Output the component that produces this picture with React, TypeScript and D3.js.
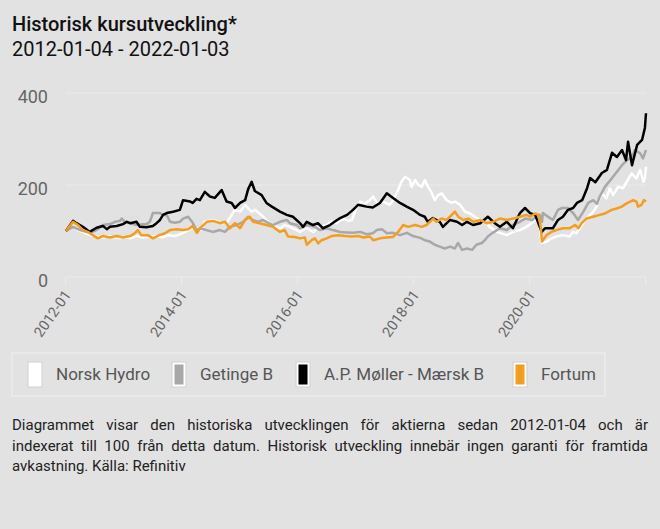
import React, { useEffect, useRef } from "react";
import * as d3 from "d3";

type Pt = [string, number];

const title = "Historisk kursutveckling*";
const subtitle = "2012-01-04 - 2022-01-03";
const yTickValues = [0, 200, 400];
const xTickDates = ["2012-01-01", "2014-01-01", "2016-01-01", "2018-01-01", "2020-01-01", "2022-01-01"];
const xTickLabels = ["2012-01", "2014-01", "2016-01", "2018-01", "2020-01", ""];
const seriesNames = ["Norsk Hydro", "Getinge B", "A.P. Møller - Mærsk B", "Fortum"];
const seriesColors = ["#ffffff", "#a8a8a8", "#000000", "#f59d1c"];
const footLines = [
  "Diagrammet visar den historiska utvecklingen för aktierna sedan 2012-01-04 och är",
  "indexerat till 100 från detta datum. Historisk utveckling innebär ingen garanti för framtida",
  "avkastning. Källa: Refinitiv",
];

const norskHydro: Pt[] = [
  ["2012-01-04", 100], ["2012-02-17", 109], ["2012-03-20", 102], ["2012-05-02", 96], ["2012-06-02", 91],
  ["2012-07-14", 88], ["2012-08-24", 86], ["2012-10-07", 89], ["2012-11-18", 84], ["2012-12-28", 87],
  ["2013-02-11", 84], ["2013-03-23", 89], ["2013-05-02", 86], ["2013-06-15", 87], ["2013-07-27", 89],
  ["2013-09-06", 86], ["2013-09-29", 91], ["2013-11-20", 89], ["2013-12-21", 93], ["2014-01-22", 98],
  ["2014-02-24", 104], ["2014-04-05", 106], ["2014-05-06", 102], ["2014-05-27", 120], ["2014-07-16", 124],
  ["2014-08-30", 118], ["2014-10-11", 117], ["2014-11-20", 139], ["2014-12-03", 146], ["2015-01-04", 142],
  ["2015-02-05", 157], ["2015-02-25", 149], ["2015-03-16", 142], ["2015-04-07", 146], ["2015-05-18", 135],
  ["2015-06-28", 120], ["2015-07-30", 113], ["2015-09-12", 106], ["2015-10-12", 113], ["2015-11-13", 109],
  ["2015-12-26", 102], ["2016-01-16", 98], ["2016-02-28", 106], ["2016-04-09", 98], ["2016-05-20", 109],
  ["2016-07-02", 113], ["2016-08-02", 120], ["2016-09-04", 117], ["2016-10-15", 127], ["2016-11-15", 122],
  ["2016-12-08", 124], ["2017-01-06", 150], ["2017-01-29", 164], ["2017-02-28", 160], ["2017-03-31", 167],
  ["2017-04-21", 175], ["2017-05-21", 157], ["2017-06-22", 164], ["2017-08-03", 157], ["2017-08-24", 167],
  ["2017-09-25", 189], ["2017-10-16", 207], ["2017-11-08", 218], ["2017-12-08", 211], ["2017-12-19", 196],
  ["2018-01-10", 211], ["2018-01-31", 200], ["2018-02-21", 196], ["2018-03-12", 211], ["2018-04-02", 196],
  ["2018-04-22", 185], ["2018-05-14", 167], ["2018-06-04", 178], ["2018-06-26", 182], ["2018-07-28", 167],
  ["2018-08-29", 161], ["2018-09-18", 164], ["2018-10-20", 157], ["2018-11-20", 142], ["2018-12-22", 138],
  ["2019-01-23", 131], ["2019-02-24", 124], ["2019-04-06", 117], ["2019-04-25", 109], ["2019-06-09", 98],
  ["2019-08-11", 91], ["2019-09-20", 98], ["2019-11-01", 102], ["2019-12-13", 109], ["2020-01-25", 120],
  ["2020-02-26", 127], ["2020-03-19", 74], ["2020-04-17", 77], ["2020-05-18", 84], ["2020-06-18", 88],
  ["2020-07-29", 91], ["2020-09-09", 88], ["2020-09-30", 98], ["2020-10-21", 95], ["2020-11-13", 106],
  ["2020-12-04", 117], ["2020-12-24", 127], ["2021-02-05", 142], ["2021-02-26", 153], ["2021-03-29", 182],
  ["2021-04-29", 171], ["2021-05-20", 193], ["2021-06-10", 178], ["2021-07-11", 196], ["2021-08-12", 193],
  ["2021-09-03", 207], ["2021-10-05", 225], ["2021-11-04", 214], ["2021-11-27", 233], ["2021-12-18", 207],
  ["2021-12-27", 214], ["2022-01-03", 240],
];

const getinge: Pt[] = [
  ["2012-01-04", 100], ["2012-02-17", 109], ["2012-04-01", 102], ["2012-06-02", 96], ["2012-07-14", 102],
  ["2012-08-24", 113], ["2012-10-07", 115], ["2012-11-08", 120], ["2012-12-09", 122], ["2012-12-20", 127],
  ["2013-01-10", 120], ["2013-02-11", 117], ["2013-03-23", 113], ["2013-05-25", 115], ["2013-06-15", 120],
  ["2013-07-04", 139], ["2013-08-18", 139], ["2013-09-06", 135], ["2013-09-29", 135], ["2013-10-20", 120],
  ["2013-11-20", 118], ["2013-12-21", 120], ["2014-01-10", 127], ["2014-02-11", 131], ["2014-03-12", 118],
  ["2014-04-05", 102], ["2014-04-26", 106], ["2014-06-07", 102], ["2014-07-16", 98], ["2014-08-30", 102],
  ["2014-10-01", 98], ["2014-11-01", 109], ["2014-12-13", 113], ["2015-01-23", 120], ["2015-02-24", 131],
  ["2015-03-22", 124], ["2015-04-28", 120], ["2015-05-27", 124], ["2015-06-28", 118], ["2015-07-29", 113],
  ["2015-09-12", 120], ["2015-10-25", 124], ["2015-11-13", 117], ["2015-12-28", 113], ["2016-01-16", 106],
  ["2016-03-01", 113], ["2016-04-19", 109], ["2016-05-20", 102], ["2016-07-02", 106], ["2016-08-11", 102],
  ["2016-09-25", 98], ["2016-11-08", 97], ["2016-12-15", 96], ["2017-01-29", 98], ["2017-03-12", 93],
  ["2017-04-19", 95], ["2017-05-14", 102], ["2017-06-15", 104], ["2017-07-16", 95], ["2017-08-24", 96],
  ["2017-10-07", 91], ["2017-11-20", 96], ["2017-12-28", 89], ["2018-02-11", 85], ["2018-03-12", 80],
  ["2018-04-13", 77], ["2018-05-14", 70], ["2018-06-15", 66], ["2018-07-16", 62], ["2018-08-18", 66],
  ["2018-09-18", 62], ["2018-10-07", 74], ["2018-11-02", 59], ["2018-12-03", 62], ["2019-01-04", 59],
  ["2019-01-31", 70], ["2019-03-06", 74], ["2019-03-25", 80], ["2019-04-13", 88], ["2019-05-14", 96],
  ["2019-06-28", 106], ["2019-08-11", 102], ["2019-09-18", 113], ["2019-10-15", 117], ["2019-11-01", 120],
  ["2019-12-05", 127], ["2020-01-16", 124], ["2020-02-10", 131], ["2020-03-06", 135], ["2020-03-19", 120],
  ["2020-03-25", 139], ["2020-05-08", 128], ["2020-05-27", 124], ["2020-06-28", 146], ["2020-07-23", 150],
  ["2020-08-30", 150], ["2020-10-01", 139], ["2020-11-01", 124], ["2020-12-03", 141], ["2021-01-04", 161],
  ["2021-02-05", 167], ["2021-03-01", 159], ["2021-03-18", 175], ["2021-04-19", 196], ["2021-06-03", 215],
  ["2021-07-04", 229], ["2021-08-05", 243], ["2021-09-06", 254], ["2021-10-07", 262], ["2021-10-25", 276],
  ["2021-11-27", 269], ["2021-12-15", 258], ["2022-01-03", 276],
];

const maersk: Pt[] = [
  ["2012-01-04", 100], ["2012-02-17", 122], ["2012-03-10", 117], ["2012-04-19", 109], ["2012-06-02", 98],
  ["2012-07-14", 107], ["2012-08-24", 111], ["2012-09-17", 104], ["2012-10-07", 109], ["2012-11-18", 111],
  ["2012-12-28", 115], ["2013-01-21", 120], ["2013-02-11", 117], ["2013-03-23", 120], ["2013-04-13", 109],
  ["2013-05-25", 108], ["2013-07-04", 111], ["2013-07-27", 117], ["2013-08-18", 124], ["2013-09-06", 135],
  ["2013-09-29", 139], ["2013-11-08", 142], ["2013-12-21", 146], ["2014-01-10", 167], ["2014-02-24", 164],
  ["2014-03-12", 161], ["2014-04-05", 170], ["2014-04-26", 167], ["2014-05-27", 185], ["2014-06-28", 175],
  ["2014-07-29", 172], ["2014-09-10", 189], ["2014-10-11", 164], ["2014-11-12", 161], ["2014-12-03", 150],
  ["2015-01-04", 161], ["2015-02-05", 167], ["2015-02-24", 191], ["2015-03-18", 207], ["2015-04-07", 187],
  ["2015-05-20", 178], ["2015-06-19", 161], ["2015-07-23", 153], ["2015-09-12", 142], ["2015-10-25", 135],
  ["2015-12-03", 131], ["2016-01-16", 117], ["2016-02-05", 109], ["2016-02-28", 120], ["2016-04-07", 113],
  ["2016-05-08", 117], ["2016-06-09", 106], ["2016-07-23", 113], ["2016-09-06", 124], ["2016-09-25", 128],
  ["2016-11-08", 135], ["2016-12-15", 146], ["2017-01-16", 157], ["2017-03-10", 153], ["2017-04-19", 151],
  ["2017-06-03", 161], ["2017-07-16", 182], ["2017-08-24", 172], ["2017-10-07", 161], ["2017-11-18", 153],
  ["2017-12-28", 146], ["2018-02-11", 135], ["2018-03-12", 131], ["2018-03-31", 120], ["2018-05-02", 128],
  ["2018-06-15", 120], ["2018-07-04", 109], ["2018-08-18", 124], ["2018-10-01", 120], ["2018-11-02", 113],
  ["2018-12-03", 120], ["2019-01-10", 113], ["2019-02-24", 117], ["2019-04-13", 131], ["2019-05-27", 117],
  ["2019-06-28", 109], ["2019-08-11", 120], ["2019-09-18", 106], ["2019-11-01", 139], ["2019-12-03", 150],
  ["2020-01-04", 139], ["2020-02-05", 135], ["2020-03-17", 98], ["2020-04-07", 106], ["2020-05-27", 106],
  ["2020-06-28", 124], ["2020-07-29", 131], ["2020-08-30", 146], ["2020-10-01", 150], ["2020-10-25", 161],
  ["2020-11-27", 167], ["2020-12-28", 193], ["2021-01-16", 215], ["2021-02-18", 206], ["2021-03-31", 226],
  ["2021-05-02", 233], ["2021-06-03", 270], ["2021-07-04", 261], ["2021-08-05", 276], ["2021-08-30", 254],
  ["2021-09-12", 294], ["2021-10-07", 243], ["2021-11-08", 287], ["2021-12-09", 298], ["2021-12-27", 324],
  ["2022-01-03", 356],
];

const fortum: Pt[] = [
  ["2012-01-04", 100], ["2012-02-17", 120], ["2012-03-20", 113], ["2012-04-19", 102], ["2012-05-22", 98],
  ["2012-06-21", 91], ["2012-07-22", 84], ["2012-08-24", 89], ["2012-10-07", 86], ["2012-11-18", 89],
  ["2012-12-28", 86], ["2013-02-11", 89], ["2013-03-12", 95], ["2013-03-31", 102], ["2013-04-22", 91],
  ["2013-06-03", 91], ["2013-07-04", 84], ["2013-08-14", 91], ["2013-09-18", 95], ["2013-10-20", 102],
  ["2013-12-03", 104], ["2014-01-10", 102], ["2014-02-11", 104], ["2014-03-12", 111], ["2014-04-07", 96],
  ["2014-05-06", 109], ["2014-06-09", 120], ["2014-07-18", 122], ["2014-08-30", 117], ["2014-10-01", 120],
  ["2014-11-01", 106], ["2014-12-03", 117], ["2015-01-04", 106], ["2015-02-05", 124], ["2015-03-06", 131],
  ["2015-03-27", 120], ["2015-05-08", 117], ["2015-06-19", 113], ["2015-07-30", 109], ["2015-09-12", 98],
  ["2015-10-12", 102], ["2015-11-02", 88], ["2015-12-14", 87], ["2016-01-16", 84], ["2016-02-16", 86],
  ["2016-02-28", 70], ["2016-03-30", 80], ["2016-04-19", 84], ["2016-05-10", 73], ["2016-05-31", 80],
  ["2016-07-02", 84], ["2016-08-02", 89], ["2016-09-14", 91], ["2016-10-26", 89], ["2016-12-08", 88],
  ["2017-01-18", 89], ["2017-02-19", 86], ["2017-03-31", 88], ["2017-04-21", 80], ["2017-06-03", 84],
  ["2017-07-14", 86], ["2017-08-24", 87], ["2017-09-25", 98], ["2017-10-27", 113], ["2017-11-27", 109],
  ["2018-01-10", 113], ["2018-02-21", 109], ["2018-03-23", 113], ["2018-05-04", 127], ["2018-05-25", 120],
  ["2018-06-26", 127], ["2018-07-28", 124], ["2018-08-29", 135], ["2018-09-18", 142], ["2018-10-09", 131],
  ["2018-11-10", 124], ["2018-12-11", 127], ["2019-01-12", 120], ["2019-02-24", 124], ["2019-04-06", 117],
  ["2019-05-16", 120], ["2019-06-28", 127], ["2019-08-11", 124], ["2019-09-20", 127], ["2019-11-01", 131],
  ["2019-12-13", 135], ["2020-01-04", 131], ["2020-02-05", 138], ["2020-02-26", 135], ["2020-03-11", 109],
  ["2020-03-19", 77], ["2020-04-17", 91], ["2020-05-18", 98], ["2020-06-18", 102], ["2020-07-29", 106],
  ["2020-09-09", 106], ["2020-10-13", 113], ["2020-11-03", 106], ["2020-11-24", 117], ["2020-12-24", 127],
  ["2021-02-05", 131], ["2021-03-18", 135], ["2021-04-19", 138], ["2021-06-01", 146], ["2021-07-02", 149],
  ["2021-08-03", 153], ["2021-09-03", 160], ["2021-10-15", 167], ["2021-11-04", 164], ["2021-11-14", 153],
  ["2021-12-06", 157], ["2021-12-21", 167], ["2022-01-03", 164],
];

const allSeries = [norskHydro, getinge, maersk, fortum];

const W = 660;
const H = 529;
const BG = "#e2e2e2";
const GRID = "#ebebeb";
const FONT = "Roboto, 'DejaVu Sans', sans-serif";
const legendX = [28, 172, 296, 513];

export default function App() {
  const footRef = useRef<SVGGElement | null>(null);

  const x = d3
    .scaleUtc()
    .domain([new Date("2012-01-04"), new Date("2022-01-03")])
    .range([66, 646]);
  const y = d3.scaleLinear().domain([0, 400]).range([277, 93]);

  const line = d3
    .line<Pt>()
    .x((d) => x(new Date(d[0])))
    .y((d) => y(d[1]));

  useEffect(() => {
    if (!footRef.current) return;
    const target = 636;
    d3.select(footRef.current)
      .selectAll<SVGTextElement, unknown>("text.justify")
      .each(function () {
        const len = this.getComputedTextLength();
        const txt = this.textContent || "";
        const spaces = (txt.match(/ /g) || []).length;
        if (spaces > 0) {
          const ws = (target - len) / spaces;
          d3.select(this).attr("word-spacing", ws);
        }
      });
  }, []);

  return (
    <svg
      width={W}
      height={H}
      style={{ position: "absolute", left: 0, top: 0, display: "block" }}
      fontFamily={FONT}
    >
      <rect x={0} y={0} width={W} height={H} fill={BG} />
      <text x={12} y={31} fontSize={20} fontWeight={500} fill="#111">
        {title}
      </text>
      <text x={12} y={56} fontSize={20} fill="#111">
        {subtitle}
      </text>

      {yTickValues.map((v) => (
        <g key={v}>
          <line x1={66} x2={646} y1={y(v)} y2={y(v)} stroke={GRID} strokeWidth={1} />
          <text x={48} y={y(v) + 9.5} textAnchor="end" fontSize={18} fill="#666">
            {v}
          </text>
        </g>
      ))}

      {xTickDates.map((d, i) => {
        const xx = x(new Date(d));
        return (
          <g key={d}>
            <line x1={xx} x2={xx} y1={277} y2={285} stroke={GRID} strokeWidth={1} />
            {xTickLabels[i] && (
              <text
                transform={`translate(${xx + 2},${292}) rotate(-55)`}
                textAnchor="end"
                dy="0.35em"
                fontSize={14.5}
                fill="#666"
              >
                {xTickLabels[i]}
              </text>
            )}
          </g>
        );
      })}

      {allSeries.map((s, i) => (
        <path
          key={seriesNames[i]}
          d={line(s) || ""}
          fill="none"
          stroke={seriesColors[i]}
          strokeWidth={2.5}
          strokeLinejoin="round"
        />
      ))}

      <rect x={12} y={353} width={593} height={43} fill="none" stroke="#ececec" strokeWidth={1.5} />
      {seriesNames.map((name, i) => (
        <g key={name} transform={`translate(${legendX[i]},362)`}>
          <rect x={0} y={0} width={14} height={25} fill="#ffffff" stroke="#cfcfcf" strokeWidth={1} />
          <rect x={2.5} y={2.5} width={9} height={20} fill={seriesColors[i]} />
          <text x={28} y={12.5} dy="0.35em" fontSize={17} fill="#555">
            {name}
          </text>
        </g>
      ))}

      <g ref={footRef}>
        {footLines.map((t, i) => (
          <text
            key={i}
            className={i < footLines.length - 1 ? "justify" : ""}
            x={12}
            y={430 + i * 20.5}
            fontSize={15}
            fill="#222"
          >
            {t}
          </text>
        ))}
      </g>
    </svg>
  );
}
